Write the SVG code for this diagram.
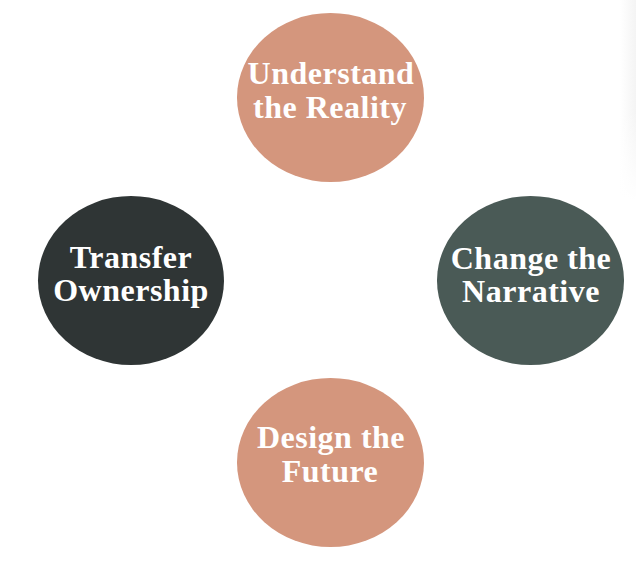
<svg xmlns="http://www.w3.org/2000/svg" width="636" height="576" viewBox="0 0 636 576">
  <defs>
    <linearGradient id="edge" x1="0" y1="0" x2="1" y2="0">
      <stop offset="0" stop-color="#f4f4f4" stop-opacity="0"/>
      <stop offset="1" stop-color="#f4f4f4" stop-opacity="1"/>
    </linearGradient>
    <linearGradient id="edgeFade" x1="0" y1="0" x2="0" y2="1">
      <stop offset="0" stop-color="#fff" stop-opacity="0"/>
      <stop offset="1" stop-color="#fff" stop-opacity="1"/>
    </linearGradient>
  </defs>
  <style>
    .salmon { fill: #D4967D; }
    .dark { fill: #2F3535; }
    .slate { fill: #4A5A56; }
    .label { fill: #ffffff; font-family: "Liberation Serif", "DejaVu Serif", serif; font-weight: bold; font-size: 32px; letter-spacing: 0.5px; text-anchor: middle; }
  </style>
  <rect width="636" height="576" fill="#ffffff"/>
  <rect x="620" y="0" width="16" height="200" fill="url(#edge)"/>
  <rect x="620" y="110" width="16" height="90" fill="url(#edgeFade)"/>
  <g id="connectors"></g>
  <g id="node-understand">
    <ellipse class="salmon" cx="330.5" cy="97.5" rx="93.5" ry="84.5"/>
    <text class="label" x="331" y="84">Understand</text>
    <text class="label" x="330" y="118">the Reality</text>
  </g>
  <g id="node-transfer">
    <ellipse class="dark" cx="131" cy="280.5" rx="93" ry="84.5"/>
    <text class="label" x="131" y="268">Transfer</text>
    <text class="label" x="131" y="301">Ownership</text>
  </g>
  <g id="node-change">
    <ellipse class="slate" cx="530.5" cy="280.5" rx="93.5" ry="84.5"/>
    <text class="label" x="531" y="269">Change the</text>
    <text class="label" x="531" y="302">Narrative</text>
  </g>
  <g id="node-design">
    <ellipse class="salmon" cx="330.5" cy="462.5" rx="93.5" ry="84.5"/>
    <text class="label" x="331" y="448">Design the</text>
    <text class="label" x="330" y="482">Future</text>
  </g>
</svg>
